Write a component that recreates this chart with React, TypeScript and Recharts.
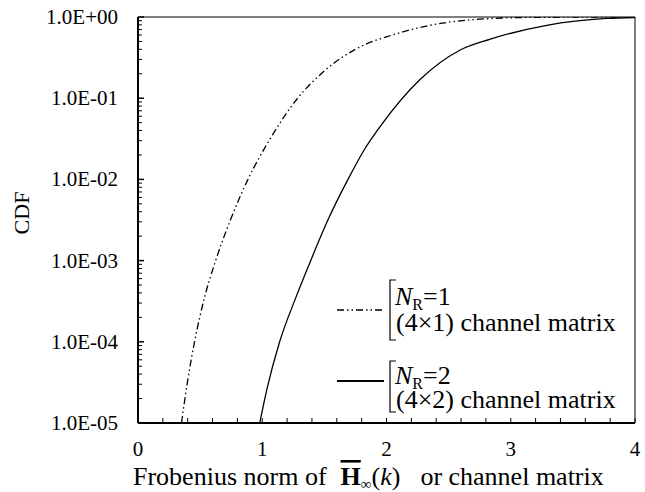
import { LineChart, Line, XAxis, YAxis, ReferenceArea } from "recharts";

// norm value -> CDF
const NR1_NORM = [0.35, 0.398, 0.455, 0.535, 0.625, 0.745, 0.885, 1.06, 1.285, 1.49, 1.83, 2.0, 2.35, 2.75, 3.2, 4.0];
const NR1_CDF = [1e-5, 3.2e-5, 1e-4, 3.5e-4, 1e-3, 3.2e-3, 1e-2, 3.1e-2, 0.1, 0.21, 0.46, 0.57, 0.79, 0.94, 0.99, 1.0];
const NR2_NORM = [0.98, 1.04, 1.14, 1.27, 1.39, 1.53, 1.69, 1.82, 1.95, 2.27, 2.59, 2.83, 3.29, 3.77, 4.0];
const NR2_CDF = [1e-5, 2.7e-5, 1e-4, 3.5e-4, 1e-3, 3.2e-3, 1e-2, 2.3e-2, 4.5e-2, 0.17, 0.39, 0.53, 0.79, 0.96, 0.986];

const X_TICKS = [0, 0.2, 0.4, 0.6, 0.8, 1, 1.2, 1.4, 1.6, 1.8, 2, 2.2, 2.4, 2.6, 2.8, 3, 3.2, 3.4, 3.6, 3.8, 4];
const Y_DECADES = [1e-5, 1e-4, 1e-3, 1e-2, 1e-1, 1];
const Y_LABELS = ["1.0E-05", "1.0E-04", "1.0E-03", "1.0E-02", "1.0E-01", "1.0E+00"];
const Y_MINORS = [1, 2, 3, 4, 5, 6, 7, 8, 9];
const Y_TICKS = Y_DECADES.slice(0, -1)
  .flatMap((d) => Y_MINORS.map((m) => m * d))
  .concat([1]);

const nr1 = NR1_NORM.map((x, i) => ({ x, y: NR1_CDF[i] }));
const nr2 = NR2_NORM.map((x, i) => ({ x, y: NR2_CDF[i] }));

const FONT = '"Liberation Serif", "Times New Roman", serif';
const DASH_DOT = "7 3 1.5 3 1.5 3";

function yLabel(v: number) {
  const i = Y_DECADES.findIndex((d) => Math.abs(Math.log10(d) - Math.log10(v)) < 1e-6);
  return i >= 0 ? Y_LABELS[i] : null;
}

function YTick({ x, y, payload }: any) {
  const label = yLabel(payload.value);
  return (
    <g>
      <line x1={x} x2={x + (label ? 6 : 4)} y1={y} y2={y} stroke="#000" strokeWidth={label ? 1.5 : 1} />
      {label && (
        <text x={x - 20} y={y} textAnchor="end" dominantBaseline="central" fontSize={21} style={{ fontFamily: FONT }} fill="#000">
          {label}
        </text>
      )}
    </g>
  );
}

function XTick({ x, y, payload }: any) {
  const v = payload.value;
  const major = Number.isInteger(v);
  return (
    <g>
      <line x1={x} x2={x} y1={y} y2={y - 5} stroke="#000" strokeWidth={1} />
      {major && (
        <text x={x} y={y + 26} textAnchor="middle" dominantBaseline="central" fontSize={21} style={{ fontFamily: FONT }} fill="#000">
          {String(v)}
        </text>
      )}
    </g>
  );
}

function Overlay() {
  const bracket = (top: number, bottom: number) => (
    <path d={`M 396 ${top} H 390 V ${bottom} H 396`} fill="none" stroke="#000" strokeWidth={1.2} />
  );
  return (
    <svg width={645} height={492} style={{ position: "absolute", left: 0, top: 0, pointerEvents: "none", fontFamily: FONT }} fill="#000">
      <line x1={337} x2={384} y1={310} y2={310} stroke="#000" strokeWidth={1.3} strokeDasharray={DASH_DOT} />
      {bracket(280, 340)}
      <text x={395} y={305} fontSize={26}>
        <tspan fontStyle="italic">N</tspan>
        <tspan fontSize={16} dy={5}>R</tspan>
        <tspan dy={-5}>=1</tspan>
      </text>
      <text x={396} y={331} fontSize={26}>(4×1) channel matrix</text>

      <line x1={337} x2={384} y1={381} y2={381} stroke="#000" strokeWidth={2} />
      {bracket(361, 412)}
      <text x={395} y={384} fontSize={26}>
        <tspan fontStyle="italic">N</tspan>
        <tspan fontSize={16} dy={5}>R</tspan>
        <tspan dy={-5}>=2</tspan>
      </text>
      <text x={396} y={408} fontSize={26}>(4×2) channel matrix</text>

      <text x={21} y={213} textAnchor="middle" dominantBaseline="central" transform="rotate(-90 21 213)" fontSize={22}>
        CDF
      </text>
      <text x={133} y={485} fontSize={26}>
        <tspan>Frobenius norm of</tspan>
        <tspan dx={14} fontWeight="bold" textDecoration="overline">H</tspan>
        <tspan fontSize={15} dy={4}>∞</tspan>
        <tspan dy={-4}>(</tspan>
        <tspan fontStyle="italic">k</tspan>
        <tspan>)</tspan>
        <tspan dx={20}>or channel matrix</tspan>
      </text>
    </svg>
  );
}

export default function App() {
  return (
    <div style={{ position: "absolute", left: 0, top: 0, width: 645, height: 492, background: "#fff" }}>
      <LineChart width={645} height={492} margin={{ top: 17, right: 10, bottom: 39, left: 0 }}>
        <ReferenceArea x1={0} x2={4} y1={1e-5} y2={1} fill="none" stroke="#000" strokeWidth={1} />
        <XAxis
          type="number"
          dataKey="x"
          domain={[0, 4]}
          ticks={X_TICKS}
          interval={0}
          height={30}
          tickSize={0}
          tickMargin={0}
          tickLine={false}
          axisLine={{ stroke: "#000", strokeWidth: 2 }}
          tick={<XTick />}
          allowDataOverflow
        />
        <YAxis
          type="number"
          scale="log"
          domain={[1e-5, 1]}
          ticks={Y_TICKS}
          interval={0}
          width={138}
          tickSize={0}
          tickMargin={0}
          tickLine={false}
          axisLine={{ stroke: "#000", strokeWidth: 2 }}
          tick={<YTick />}
          allowDataOverflow
        />
        <Line data={nr1} dataKey="y" type="monotone" stroke="#000" strokeWidth={1.3} strokeDasharray={DASH_DOT} dot={false} isAnimationActive={false} />
        <Line data={nr2} dataKey="y" type="monotone" stroke="#000" strokeWidth={1.3} dot={false} isAnimationActive={false} />
      </LineChart>
      <Overlay />
    </div>
  );
}
